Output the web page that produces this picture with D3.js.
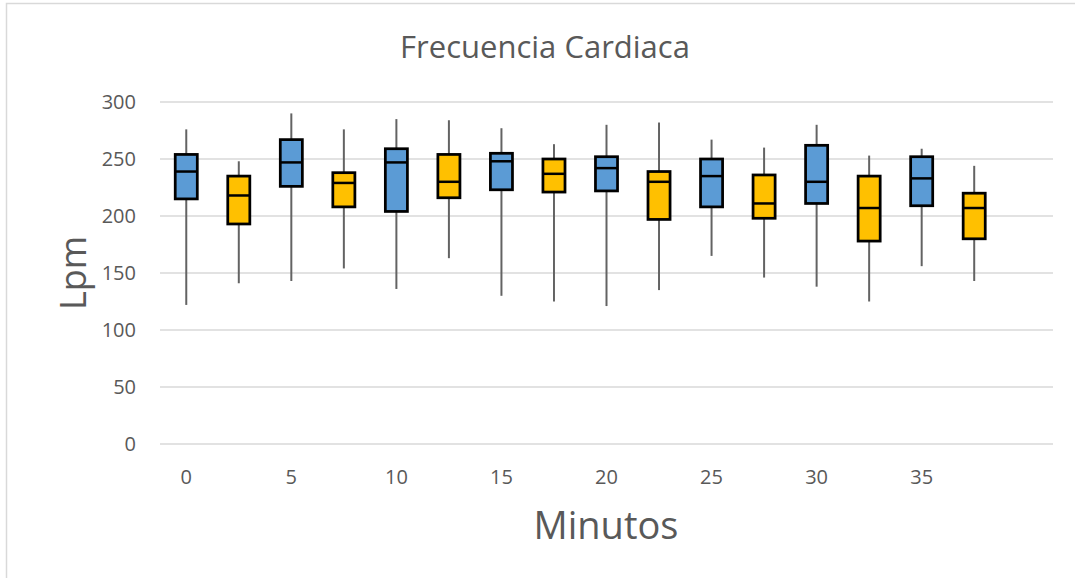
<!DOCTYPE html>
<html>
<head>
<meta charset="utf-8">
<script src="https://cdn.jsdelivr.net/npm/d3@7"></script>
<style>
body { margin: 0; background: #fff; }
</style>
</head>
<body>
<script>
var width = 1075,
    height = 578;

// half-slots of 2.5 min, one box each; last slot is left empty
var minutes = ["0", "2.5", "5", "7.5", "10", "12.5", "15", "17.5", "20", "22.5", "25", "27.5", "30", "32.5", "35", "37.5"];
var slots = minutes.concat(["40"]);
var tickLabels = ["0", "5", "10", "15", "20", "25", "30", "35"];
var yTicks = [0, 50, 100, 150, 200, 250, 300];

var group = ["a", "b", "a", "b", "a", "b", "a", "b", "a", "b", "a", "b", "a", "b", "a", "b"];
var minVals = [122, 141, 143, 154, 136, 163, 130, 125, 121, 135, 165, 146, 138, 125, 156, 143];
var q1Vals  = [215, 193, 226, 208, 204, 216, 223, 221, 222, 197, 208, 198, 211, 178, 209, 180];
var medVals = [239, 218, 247, 229, 247, 230, 248, 237, 242, 230, 235, 211, 230, 207, 233, 207];
var q3Vals  = [254, 235, 267, 238, 259, 254, 255, 250, 252, 239, 250, 236, 262, 235, 252, 220];
var maxVals = [276, 248, 290, 276, 285, 284, 277, 263, 280, 282, 267, 260, 280, 253, 259, 244];

var color = d3.scaleOrdinal().domain(["a", "b"]).range(["#5B9BD5", "#FFC000"]);

var boxes = minutes.map(function (m, i) {
    return { slot: m, g: group[i], min: minVals[i], q1: q1Vals[i], med: medVals[i], q3: q3Vals[i], max: maxVals[i] };
});

var plotL = 160, plotR = 1053, plotT = 102, plotB = 444;

var x = d3.scaleBand().domain(slots).range([plotL, plotR]).padding(0);
var y = d3.scaleLinear().domain([0, 300]).range([plotB, plotT]);

var svg = d3.select("body").append("svg")
    .attr("width", width)
    .attr("height", height);

// chart border (only left/top show in the window)
svg.append("rect")
    .attr("x", 6.5).attr("y", 3.5)
    .attr("width", width + 20).attr("height", height + 20)
    .style("fill", "none")
    .style("stroke", "#d9d9d9")
    .style("stroke-width", 1.5);

// gridlines
svg.append("g").selectAll("line").data(yTicks).enter().append("line")
    .attr("x1", plotL).attr("x2", plotR)
    .attr("y1", function (d) { return y(d); })
    .attr("y2", function (d) { return y(d); })
    .style("stroke", "#d9d9d9")
    .style("stroke-width", 1.5);

var yAxis = svg.append("g")
    .attr("transform", "translate(" + plotL + ",0)")
    .call(d3.axisLeft(y).tickValues(yTicks).tickSize(0).tickPadding(24));
yAxis.select(".domain").remove();
yAxis.selectAll("text")
    .style("font-family", "Open Sans")
    .style("font-size", "20px")
    .style("fill", "#595959");

var xAxis = svg.append("g")
    .attr("transform", "translate(0," + plotB + ")")
    .call(d3.axisBottom(x).tickValues(tickLabels).tickSize(0).tickPadding(26));
xAxis.select(".domain").remove();
xAxis.selectAll("text")
    .style("font-family", "Open Sans")
    .style("font-size", "20px")
    .style("fill", "#595959");

var bw = x.bandwidth() * 0.42;

var box = svg.append("g").selectAll(".box").data(boxes).enter().append("g")
    .attr("class", "box")
    .attr("transform", function (d) { return "translate(" + (x(d.slot) + x.bandwidth() / 2) + ",0)"; });

box.append("line")
    .attr("x1", 0).attr("x2", 0)
    .attr("y1", function (d) { return y(d.max); })
    .attr("y2", function (d) { return y(d.min); })
    .style("stroke", "#636363")
    .style("stroke-width", 2);

box.append("rect")
    .attr("x", -bw / 2)
    .attr("width", bw)
    .attr("y", function (d) { return y(d.q3); })
    .attr("height", function (d) { return y(d.q1) - y(d.q3); })
    .style("fill", function (d) { return color(d.g); })
    .style("stroke", "#000")
    .style("stroke-width", 2.75);

box.append("line")
    .attr("x1", -bw / 2).attr("x2", bw / 2)
    .attr("y1", function (d) { return y(d.med); })
    .attr("y2", function (d) { return y(d.med); })
    .style("stroke", "#000")
    .style("stroke-width", 2.5);

svg.append("text")
    .attr("x", 545).attr("y", 58)
    .attr("text-anchor", "middle")
    .style("font-family", "Open Sans")
    .style("font-size", "31px")
    .style("fill", "#595959")
    .text("Frecuencia Cardiaca");

svg.append("text")
    .attr("x", 606).attr("y", 539)
    .attr("text-anchor", "middle")
    .style("font-family", "Open Sans")
    .style("font-size", "38px")
    .style("fill", "#595959")
    .text("Minutos");

svg.append("text")
    .attr("transform", "translate(86,273) rotate(-90)")
    .attr("text-anchor", "middle")
    .style("font-family", "Open Sans")
    .style("font-size", "36px")
    .style("fill", "#595959")
    .text("Lpm");
</script>
</body>
</html>
